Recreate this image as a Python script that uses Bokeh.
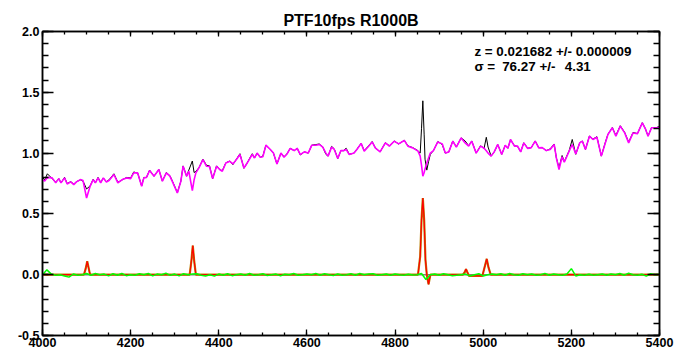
from bokeh.plotting import figure
from bokeh.models import Range1d, FixedTicker, LinearAxis, Label, PrintfTickFormatter
from bokeh.embed import file_html
from bokeh.resources import INLINE

# ---------------- data ----------------
title_text = "PTF10fps R1000B"
z_text = "z = 0.021682 +/- 0.000009"
sigma_parts = ["\u03c3 =", "76.27 +/-", "4.31"]
sigma_part_x = [4980, 5043, 5185]

x_ticks = [4000, 4200, 4400, 4600, 4800, 5000, 5200, 5400]
y_ticks = [-0.5, 0.0, 0.5, 1.0, 1.5, 2.0]

wave = [4000, 4005, 4011, 4022, 4030, 4037, 4042, 4050, 4056, 4064,
        4071, 4077, 4086, 4092, 4100, 4108, 4115, 4120, 4126, 4132,
        4138, 4145, 4151, 4162, 4171, 4181, 4191, 4200, 4207, 4216,
        4225, 4230, 4236, 4243, 4253, 4264, 4272, 4281, 4289, 4296,
        4306, 4314, 4319, 4327, 4332, 4340, 4344, 4348, 4355, 4364,
        4372, 4379, 4386, 4395, 4402, 4408, 4416, 4425, 4432, 4440,
        4448, 4457, 4463, 4469, 4476, 4481, 4487, 4494, 4500, 4507,
        4517, 4524, 4532, 4541, 4548, 4555, 4562, 4571, 4578, 4585,
        4594, 4603, 4611, 4620, 4628, 4636, 4643, 4648, 4656, 4662,
        4670, 4677, 4683, 4689, 4696, 4707, 4715, 4723, 4730, 4740,
        4748, 4755, 4766, 4778, 4787, 4798, 4808, 4821, 4829, 4840,
        4852, 4857, 4860, 4863, 4866, 4868, 4872, 4876, 4880, 4887,
        4897, 4907, 4914, 4922, 4931, 4939, 4950, 4959, 4967, 4974,
        4984, 4994, 5002, 5007, 5011, 5018, 5025, 5033, 5042, 5050,
        5056, 5062, 5071, 5078, 5085, 5092, 5101, 5109, 5118, 5126,
        5134, 5143, 5152, 5161, 5166, 5172, 5179, 5184, 5195, 5202,
        5210, 5219, 5225, 5232, 5241, 5249, 5258, 5268, 5276, 5283,
        5293, 5301, 5311, 5321, 5330, 5340, 5350, 5361, 5368, 5374,
        5382, 5393, 5400]

fit_flux = [0.78, 0.77, 0.80, 0.796, 0.755, 0.79, 0.755, 0.796, 0.746, 0.763,
            0.741, 0.763, 0.782, 0.774, 0.631, 0.727, 0.782, 0.755, 0.796, 0.755,
            0.796, 0.763, 0.774, 0.824, 0.755, 0.782, 0.796, 0.79, 0.837, 0.837,
            0.727, 0.796, 0.80, 0.857, 0.81, 0.865, 0.769, 0.837, 0.81, 0.755,
            0.672, 0.769, 0.892, 0.81, 0.851, 0.692, 0.78, 0.837, 0.878, 0.947,
            0.892, 0.89, 0.79, 0.892, 0.865, 0.851, 0.919, 0.933, 0.911, 0.947,
            0.988, 0.878, 0.91, 0.947, 0.99, 0.96, 1.0, 0.966, 0.97, 1.065,
            1.03, 1.0, 0.911, 1.0, 0.966, 0.993, 1.038, 1.021, 1.038, 0.988,
            1.01, 1.0, 1.065, 1.065, 1.071, 1.049, 1.0, 0.975, 1.049, 1.03,
            0.955, 1.021, 1.02, 1.03, 0.988, 1.0, 1.038, 1.08, 1.016, 1.057,
            1.092, 1.043, 1.01, 1.084, 1.057, 1.098, 1.076, 1.104, 1.057, 1.043,
            1.016, 0.975, 0.90, 0.81, 0.84, 0.87, 0.919, 0.96, 1.0, 1.021,
            1.092, 1.076, 1.0, 1.01, 1.098, 1.049, 1.125, 1.084, 1.057, 1.098,
            1.0, 1.057, 1.04, 1.02, 1.0, 0.975, 1.01, 1.071, 0.988, 1.065,
            1.04, 1.112, 1.057, 1.057, 1.01, 1.084, 1.038, 1.045, 1.098, 1.043,
            1.045, 1.021, 1.03, 1.071, 0.96, 0.865, 0.97, 0.925, 1.016, 1.071,
            0.993, 1.084, 1.098, 1.03, 1.139, 1.112, 1.13, 0.975, 1.071, 1.153,
            1.208, 1.139, 1.222, 1.166, 1.084, 1.166, 1.16, 1.249, 1.2, 1.139,
            1.208, 1.208, 1.21]

obs_flux = [0.80, 0.78, 0.83, 0.79, 0.76, 0.79, 0.755, 0.80, 0.75, 0.765,
            0.745, 0.765, 0.78, 0.77, 0.705, 0.73, 0.785, 0.755, 0.80, 0.76,
            0.795, 0.765, 0.78, 0.83, 0.76, 0.78, 0.80, 0.795, 0.845, 0.835,
            0.73, 0.80, 0.80, 0.86, 0.81, 0.865, 0.77, 0.84, 0.815, 0.76,
            0.675, 0.77, 0.895, 0.81, 0.86, 0.935, 0.84, 0.85, 0.88, 0.95,
            0.90, 0.895, 0.79, 0.895, 0.865, 0.855, 0.92, 0.935, 0.905, 0.95,
            0.995, 0.875, 0.91, 0.95, 0.995, 0.96, 1.0, 0.965, 0.975, 1.065,
            1.03, 1.0, 0.91, 1.0, 0.97, 0.995, 1.04, 1.02, 1.04, 0.985,
            1.01, 1.0, 1.065, 1.07, 1.075, 1.05, 0.99, 0.975, 1.055, 1.035,
            0.955, 1.02, 1.02, 1.04, 0.99, 1.0, 1.04, 1.08, 1.02, 1.06,
            1.095, 1.045, 1.01, 1.085, 1.06, 1.10, 1.075, 1.105, 1.06, 1.045,
            1.02, 1.0, 1.20, 1.43, 1.15, 0.95, 0.86, 0.93, 0.99, 1.02,
            1.095, 1.07, 1.0, 1.01, 1.10, 1.05, 1.125, 1.10, 1.06, 1.10,
            1.0, 1.06, 1.04, 1.13, 1.05, 0.975, 1.01, 1.07, 0.99, 1.065,
            1.04, 1.11, 1.06, 1.055, 1.01, 1.085, 1.04, 1.045, 1.10, 1.045,
            1.045, 1.02, 1.035, 1.075, 0.96, 0.88, 0.98, 0.93, 1.02, 1.112,
            0.99, 1.085, 1.10, 1.03, 1.14, 1.115, 1.135, 0.975, 1.075, 1.155,
            1.21, 1.145, 1.225, 1.17, 1.09, 1.17, 1.16, 1.25, 1.20, 1.14,
            1.21, 1.21, 1.22]

# emission-line model
em_wave = [4000, 4094, 4098, 4101.5, 4105, 4108, 4334, 4338, 4341, 4344, 4348,
           4852, 4857, 4860, 4863, 4866, 4869, 4872, 4876, 4880,
           4954, 4958, 4961, 4964, 4968, 4998, 5003, 5008, 5012, 5017, 5400]
em_flux = [0.0, 0.0, 0.05, 0.11, 0.05, 0.0, 0.0, 0.12, 0.24, 0.12, 0.0,
           0.0, 0.15, 0.45, 0.63, 0.45, 0.12, 0.0, -0.08, 0.0,
           0.0, 0.02, 0.046, 0.02, -0.01, -0.01, 0.06, 0.13, 0.06, 0.0, 0.0]

# residuals
res_wave = list(range(4000, 5401, 10))
res_flux = [0.0, 0.04, 0.005, -0.005, 0.0, -0.01, -0.02, 0.005, -0.005, 0.0,
            0.01, -0.005, 0.01, 0.0, 0.005, -0.01, 0.008, -0.005, 0.01, -0.008,
            0.0, -0.005, 0.008, 0.0, 0.01, -0.01, 0.005, 0.0, 0.012, -0.005,
            0.005, -0.01, 0.008, 0.0, 0.005, 0.008, -0.005, -0.01, 0.0, -0.012,
            0.005, -0.005, 0.008, -0.008, 0.0, 0.005, -0.005, 0.01, -0.005, 0.0,
            0.008, -0.006, 0.0, 0.005, -0.008, 0.004, 0.0, 0.01, -0.005, 0.0,
            0.005, 0.0, 0.01, -0.005, 0.008, 0.0, -0.006, 0.005, -0.005, 0.0,
            0.008, -0.005, 0.01, 0.0, 0.005, 0.008, -0.005, 0.0, 0.005, -0.004,
            0.006, 0.0, -0.005, 0.004, -0.003, 0.0, 0.01, -0.04, 0.0, 0.005,
            -0.005, 0.008, 0.0, -0.008, -0.005, 0.0, 0.005, -0.01, 0.0, 0.008,
            -0.01, 0.0, 0.005, 0.0, 0.008, -0.005, 0.01, 0.0, -0.005, 0.008,
            0.0, 0.005, -0.005, 0.0, 0.01, -0.005, 0.005, 0.0, -0.005, 0.005,
            0.05, -0.01, 0.0, -0.005, 0.004, -0.005, 0.0, 0.005, -0.005, 0.005,
            0.0, 0.01, -0.004, 0.012, 0.0, -0.005, 0.004, -0.012, 0.008, 0.0,
            0.004]

zero_wave = [4000, 5400]
zero_flux = [0.0, 0.0]

# ---------------- figure ----------------
FONT = "Liberation Sans"

p = figure(width=675, height=357,
           x_range=Range1d(4000, 5400), y_range=Range1d(-0.5, 2.0),
           output_backend="svg", toolbar_location=None,
           min_border_left=42, min_border_right=16,
           min_border_top=31, min_border_bottom=22)
p.xgrid.visible = False
p.ygrid.visible = False
p.background_fill_color = "white"
p.border_fill_color = "white"
p.outline_line_color = "black"
p.outline_line_width = 1.5

p.title.text = title_text
p.title.align = "center"
p.title.text_font = FONT
p.title.text_font_style = "bold"
p.title.text_font_size = "16px"
p.title.text_color = "black"
p.title.standoff = 6

x_minor = list(range(4000, 5401, 50))
y_minor = [round(-0.5 + 0.1 * i, 1) for i in range(26)]


def style_axis(ax, major_in, minor_in, labels):
    ax.axis_line_color = "black"
    ax.axis_line_width = 1.5
    ax.major_tick_line_color = "black"
    ax.major_tick_line_width = 1.3
    ax.minor_tick_line_color = "black"
    ax.minor_tick_line_width = 1.3
    ax.major_tick_in = major_in
    ax.major_tick_out = 0
    ax.minor_tick_in = minor_in
    ax.minor_tick_out = 0
    ax.major_label_text_font = FONT
    ax.major_label_text_font_style = "bold"
    ax.major_label_text_color = "black"
    ax.major_label_text_font_size = "12.5px"
    ax.major_label_standoff = 3
    if not labels:
        ax.major_label_text_font_size = "0px"
        ax.major_label_text_color = None
        ax.major_label_standoff = 0


p.xaxis[0].ticker = FixedTicker(ticks=x_ticks, minor_ticks=x_minor)
p.xaxis[0].formatter = PrintfTickFormatter(format="%d")
style_axis(p.xaxis[0], 6, 3, True)
p.xaxis[0].major_label_standoff = 2
p.yaxis[0].ticker = FixedTicker(ticks=y_ticks, minor_ticks=y_minor)
p.yaxis[0].formatter = PrintfTickFormatter(format="%.1f")
style_axis(p.yaxis[0], 11, 6, True)

top = LinearAxis(ticker=FixedTicker(ticks=x_ticks, minor_ticks=x_minor))
style_axis(top, 5, 3, False)
p.add_layout(top, "above")
right = LinearAxis(ticker=FixedTicker(ticks=y_ticks, minor_ticks=y_minor))
style_axis(right, 12, 6, False)
p.add_layout(right, "right")

# spectra
p.line(wave, obs_flux, line_color="black", line_width=1.0)
p.line(wave, fit_flux, line_color="#ff00ff", line_width=1.6)
p.line(zero_wave, zero_flux, line_color="#7f7f7f", line_width=1.5)
p.line(em_wave, em_flux, line_color="#b8860b", line_width=2.2)
p.line(em_wave, em_flux, line_color="#ff0000", line_width=1.2)
p.line(res_wave, res_flux, line_color="#00ff00", line_width=1.5)

# texts
p.add_layout(Label(x=4980, y=1.839, text=z_text, text_align="left",
                   text_baseline="middle", text_font=FONT,
                   text_font_style="bold", text_font_size="13.4px",
                   text_color="black"))
for part, px in zip(sigma_parts, sigma_part_x):
    p.add_layout(Label(x=px, y=1.716, text=part, text_align="left",
                       text_baseline="middle", text_font=FONT,
                       text_font_style="bold", text_font_size="13.4px",
                       text_color="black"))

open("out.html", "w").write(file_html(p, INLINE))
